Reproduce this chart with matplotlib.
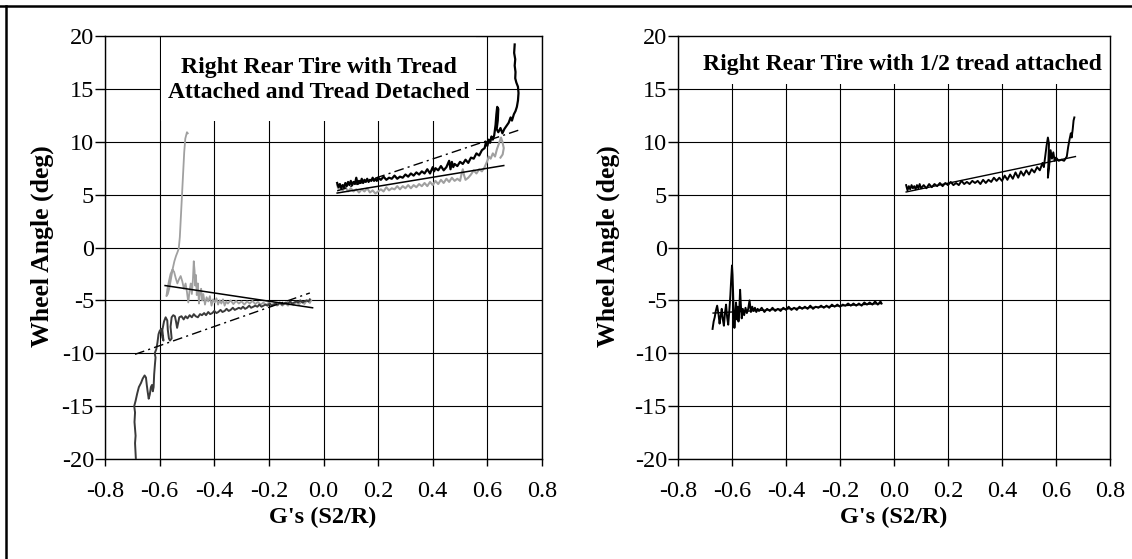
import matplotlib
matplotlib.use("Agg")
import matplotlib.pyplot as plt
from matplotlib.lines import Line2D
from matplotlib.patches import Rectangle

plt.rcParams['font.family'] = ['Liberation Serif', 'DejaVu Serif']

# ---------------- data ----------------
x_ticks = [-0.8, -0.6, -0.4, -0.2, 0.0, 0.2, 0.4, 0.6, 0.8]
x_tick_labels = ["-0.8", "-0.6", "-0.4", "-0.2", "0.0", "0.2", "0.4", "0.6", "0.8"]
y_ticks = [-20, -15, -10, -5, 0, 5, 10, 15, 20]
y_tick_labels = ["-20", "-15", "-10", "-5", "0", "5", "10", "15", "20"]

title_left = "Right Rear Tire with Tread\nAttached and Tread Detached"
title_right = "Right Rear Tire with 1/2 tread attached"
x_label = "G's (S2/R)"
y_label = "Wheel Angle (deg)"

# Left panel: tread attached (dark), negative G side
att_neg_x = [-0.687, -0.690, -0.688, -0.692, -0.690, -0.693, -0.688, -0.682, -0.676, -0.668,
             -0.662, -0.655, -0.650, -0.647, -0.644, -0.640, -0.636, -0.632, -0.628, -0.625,
             -0.622, -0.620, -0.617, -0.615, -0.618, -0.612, -0.608, -0.604, -0.600, -0.594,
             -0.590, -0.586, -0.590, -0.584, -0.578, -0.572, -0.570, -0.566, -0.562, -0.556,
             -0.560, -0.556, -0.550, -0.544, -0.540, -0.536, -0.532, -0.528, -0.520, -0.512,
             -0.505, -0.498, -0.490, -0.482, -0.475, -0.468, -0.460, -0.452, -0.445, -0.437,
             -0.430, -0.422, -0.415, -0.407, -0.400, -0.392, -0.385, -0.377, -0.370, -0.362,
             -0.355, -0.347, -0.340, -0.332, -0.325, -0.317, -0.310, -0.302, -0.295, -0.287,
             -0.280, -0.272, -0.265, -0.257, -0.250, -0.242, -0.235, -0.227, -0.220, -0.212,
             -0.205, -0.197, -0.190, -0.182, -0.175, -0.167, -0.160, -0.152, -0.145, -0.137,
             -0.130, -0.122, -0.115, -0.107, -0.100, -0.092, -0.085, -0.077, -0.070, -0.062,
             -0.055, -0.050]
att_neg_y = [-20.0, -18.5, -17.8, -16.5, -15.6, -15.0, -14.5, -13.8, -13.2, -12.8,
             -12.4, -12.1, -12.3, -13.0, -13.6, -14.3, -13.9, -13.2, -13.0, -13.6,
             -13.2, -12.0, -11.0, -10.4, -10.0, -9.6, -9.0, -8.2, -7.9, -7.7,
             -8.5, -8.8, -7.8, -7.0, -6.6, -6.9, -7.8, -8.6, -8.8, -8.6,
             -7.5, -6.6, -6.4, -6.5, -7.0, -7.6, -7.1, -6.6, -6.5, -6.8,
             -6.5, -6.7, -6.4, -6.6, -6.3, -6.5, -6.6, -6.3, -6.4, -6.2,
             -6.4, -6.1, -6.3, -6.2, -6.0, -6.2, -6.1, -5.9, -6.1, -6.0,
             -5.8, -6.0, -5.9, -5.7, -5.9, -5.8, -5.7, -5.8, -5.6, -5.8,
             -5.7, -5.5, -5.7, -5.6, -5.5, -5.6, -5.4, -5.6, -5.5, -5.4,
             -5.5, -5.3, -5.5, -5.4, -5.3, -5.4, -5.2, -5.4, -5.3, -5.2,
             -5.3, -5.1, -5.3, -5.2, -5.1, -5.2, -5.0, -5.2, -5.1, -5.0,
             -5.1, -4.9]

# Left panel: tread detached (light gray), negative G side
det_neg_x = [-0.497, -0.500, -0.503, -0.506, -0.510, -0.514, -0.518, -0.522, -0.526, -0.530,
             -0.534, -0.540, -0.546, -0.552, -0.558, -0.564, -0.570, -0.575, -0.572, -0.566,
             -0.560, -0.553, -0.547, -0.541, -0.535, -0.529, -0.523, -0.517, -0.511, -0.505,
             -0.500, -0.495, -0.490, -0.486, -0.482, -0.478, -0.475, -0.472, -0.470, -0.467,
             -0.464, -0.460, -0.456, -0.452, -0.448, -0.444, -0.440, -0.434, -0.428, -0.422,
             -0.416, -0.410, -0.404, -0.398, -0.392, -0.386, -0.380, -0.374, -0.368, -0.362,
             -0.356, -0.350, -0.340, -0.330, -0.320, -0.310, -0.300, -0.290, -0.280, -0.270,
             -0.260, -0.250, -0.240, -0.230, -0.220, -0.210, -0.200, -0.190, -0.180, -0.170,
             -0.160, -0.150, -0.140, -0.130, -0.120, -0.110, -0.100, -0.090, -0.080, -0.070,
             -0.060, -0.050, -0.045]
det_neg_y = [10.8, 10.9, 10.6, 10.3, 9.0, 7.0, 5.0, 3.0, 1.0, -0.1,
             -0.4, -0.8, -1.3, -2.0, -2.9, -3.8, -4.4, -4.6, -4.0, -3.2,
             -2.5, -2.1, -2.3, -2.9, -3.4, -3.0, -2.7, -3.2, -3.9, -3.4,
             -4.2, -5.2, -4.0, -3.4, -4.4, -3.0, -1.3, -2.2, -3.6, -2.6,
             -4.5, -3.4, -5.3, -4.3, -3.9, -5.0, -4.4, -5.4, -4.7, -5.1,
             -4.6, -5.5, -4.9, -5.2, -4.8, -5.4, -5.0, -5.3, -4.9, -5.5,
             -5.1, -5.3, -5.0, -5.35, -5.05, -5.3, -5.1, -5.4, -5.1, -5.3,
             -5.05, -5.35, -5.15, -5.4, -5.2, -5.45, -5.2, -5.45, -5.25, -5.5,
             -5.3, -5.5, -5.25, -5.5, -5.2, -5.45, -5.15, -5.4, -5.1, -5.35,
             -5.0, -5.25, -5.0]

# Left panel: tread attached (black), positive G side
att_pos_x = [0.050, 0.055, 0.060, 0.065, 0.070, 0.075, 0.080, 0.085, 0.090, 0.095,
             0.100, 0.105, 0.110, 0.115, 0.120, 0.125, 0.130, 0.135, 0.140, 0.145,
             0.150, 0.155, 0.160, 0.165, 0.170, 0.175, 0.180, 0.185, 0.190, 0.195,
             0.200, 0.210, 0.220, 0.230, 0.240, 0.250, 0.260, 0.270, 0.280, 0.290,
             0.300, 0.310, 0.320, 0.330, 0.340, 0.350, 0.360, 0.370, 0.380, 0.390,
             0.400, 0.405, 0.410, 0.420, 0.430, 0.440, 0.450, 0.460, 0.465, 0.470,
             0.475, 0.480, 0.490, 0.500, 0.510, 0.520, 0.530, 0.540, 0.550, 0.560,
             0.570, 0.580, 0.590, 0.595, 0.600, 0.605, 0.610, 0.615, 0.620, 0.625,
             0.630, 0.633, 0.636, 0.640, 0.638, 0.634, 0.640, 0.648, 0.655, 0.662,
             0.670, 0.678, 0.685, 0.690, 0.697, 0.703, 0.708, 0.712, 0.714, 0.712,
             0.706, 0.702, 0.703, 0.700, 0.702, 0.698, 0.700]
att_pos_y = [6.1, 5.7, 6.0, 5.6, 5.9, 5.7, 6.1, 5.8, 6.2, 5.9,
             6.3, 5.9, 6.2, 6.0, 6.6, 6.0, 6.3, 6.1, 6.5, 6.1,
             6.4, 6.2, 6.5, 6.2, 6.4, 6.3, 6.6, 6.3, 6.5, 6.3,
             6.6, 6.4, 6.7, 6.4, 6.6, 6.5, 6.8, 6.5, 6.7, 6.6,
             6.9, 6.7, 7.0, 6.8, 7.1, 6.9, 7.2, 7.0, 7.4, 7.0,
             7.6, 7.2, 7.5, 7.3, 7.7, 7.3, 7.6, 8.2, 7.4, 8.1,
             7.6, 7.9, 7.7, 8.1, 7.9, 8.3, 8.0, 8.5, 8.4, 8.9,
             8.7, 9.2, 9.4, 10.0, 9.6, 10.2, 9.9, 10.5, 10.2, 10.6,
             11.6, 12.6, 13.3, 13.1, 12.0, 11.2, 10.9, 11.3, 10.8, 11.2,
             11.5, 11.8, 12.3, 12.0, 12.6, 12.9, 13.3, 13.9, 14.6, 15.2,
             15.6, 16.0, 16.6, 17.2, 17.8, 18.4, 19.2]

# Left panel: tread detached (light gray), positive G side
det_pos_x = [0.050, 0.055, 0.060, 0.070, 0.080, 0.090, 0.100, 0.110, 0.120, 0.130,
             0.140, 0.150, 0.160, 0.170, 0.180, 0.190, 0.200, 0.210, 0.220, 0.230,
             0.240, 0.250, 0.260, 0.270, 0.280, 0.290, 0.300, 0.310, 0.320, 0.330,
             0.340, 0.350, 0.360, 0.370, 0.380, 0.390, 0.400, 0.410, 0.420, 0.430,
             0.440, 0.450, 0.460, 0.470, 0.480, 0.490, 0.500, 0.505, 0.510, 0.515,
             0.520, 0.530, 0.540, 0.550, 0.560, 0.570, 0.580, 0.590, 0.600, 0.605,
             0.612, 0.620, 0.628, 0.635, 0.642, 0.650, 0.655, 0.660, 0.656, 0.648]
det_pos_y = [5.9, 5.5, 5.8, 5.4, 5.7, 5.3, 5.6, 5.3, 5.5, 5.2,
             5.5, 5.3, 5.6, 5.2, 5.4, 5.1, 5.3, 5.5, 5.3, 5.7,
             5.4, 5.6, 5.5, 5.8, 5.5, 5.8, 5.6, 5.9, 5.6, 5.9,
             5.7, 6.0, 5.8, 6.1, 5.8, 6.2, 5.9, 6.3, 6.0, 6.4,
             6.1, 6.5, 6.2, 6.6, 6.3, 6.5, 6.3, 6.9, 7.4, 6.8,
             6.4, 6.6, 6.9, 7.3, 7.0, 7.4, 7.2, 7.6, 8.2, 8.6,
             8.4, 8.9, 8.6, 9.3, 9.8, 10.4, 10.0, 9.4, 8.8, 8.5]

# Left panel trend lines (end points)
fit_att_neg_x = [-0.69, -0.05]
fit_att_neg_y = [-10.1, -4.3]
fit_det_neg_x = [-0.58, -0.04]
fit_det_neg_y = [-3.6, -5.7]
fit_att_pos_x = [0.05, 0.715]
fit_att_pos_y = [5.35, 11.1]
fit_det_pos_x = [0.05, 0.66]
fit_det_pos_y = [5.15, 7.75]

# Right panel: 1/2 tread attached, negative G side
half_neg_x = [-0.672, -0.668, -0.664, -0.660, -0.655, -0.650, -0.646, -0.642, -0.638, -0.634,
              -0.630, -0.626, -0.622, -0.618, -0.614, -0.610, -0.606, -0.603, -0.600, -0.598,
              -0.596, -0.594, -0.591, -0.588, -0.585, -0.582, -0.579, -0.576, -0.573, -0.570,
              -0.567, -0.564, -0.560, -0.555, -0.550, -0.545, -0.540, -0.535, -0.530, -0.525,
              -0.520, -0.515, -0.510, -0.505, -0.500, -0.490, -0.480, -0.470, -0.460, -0.450,
              -0.440, -0.430, -0.420, -0.410, -0.400, -0.390, -0.380, -0.370, -0.360, -0.350,
              -0.340, -0.330, -0.320, -0.310, -0.300, -0.290, -0.280, -0.270, -0.260, -0.250,
              -0.240, -0.230, -0.220, -0.210, -0.200, -0.190, -0.180, -0.170, -0.160, -0.150,
              -0.140, -0.130, -0.120, -0.110, -0.100, -0.090, -0.080, -0.070, -0.060, -0.050,
              -0.046]
half_neg_y = [-7.7, -7.0, -6.6, -6.0, -5.5, -6.3, -7.2, -6.5, -5.8, -6.8,
              -7.4, -6.2, -5.4, -6.6, -7.3, -6.0, -4.5, -3.0, -1.7, -2.6,
              -4.2, -6.0, -7.6, -6.4, -5.2, -6.8, -5.6, -7.0, -5.9, -4.0,
              -5.5, -6.7, -5.8, -6.4, -5.7, -6.2, -5.8, -5.0, -6.1, -5.6,
              -6.0, -5.7, -6.1, -5.8, -6.0, -5.7, -6.1, -5.8, -6.0, -5.7,
              -6.0, -5.8, -6.0, -5.7, -5.9, -5.6, -5.9, -5.7, -5.9, -5.6,
              -5.8, -5.6, -5.8, -5.5, -5.8, -5.6, -5.7, -5.5, -5.7, -5.5,
              -5.7, -5.4, -5.6, -5.4, -5.6, -5.4, -5.5, -5.3, -5.5, -5.3,
              -5.5, -5.3, -5.5, -5.2, -5.4, -5.2, -5.4, -5.1, -5.4, -5.1,
              -5.3]

# Right panel: 1/2 tread attached, positive G side
half_pos_x = [0.045, 0.050, 0.055, 0.060, 0.065, 0.070, 0.075, 0.080, 0.085, 0.090,
              0.095, 0.100, 0.110, 0.120, 0.130, 0.140, 0.150, 0.160, 0.170, 0.180,
              0.190, 0.200, 0.210, 0.220, 0.230, 0.240, 0.250, 0.260, 0.270, 0.280,
              0.290, 0.300, 0.310, 0.320, 0.330, 0.340, 0.350, 0.360, 0.370, 0.380,
              0.390, 0.400, 0.410, 0.420, 0.430, 0.440, 0.450, 0.460, 0.470, 0.480,
              0.490, 0.500, 0.510, 0.520, 0.530, 0.540, 0.550, 0.555, 0.560, 0.565,
              0.570, 0.574, 0.572, 0.570, 0.575, 0.580, 0.585, 0.590, 0.595, 0.600,
              0.610, 0.620, 0.630, 0.640, 0.645, 0.650, 0.655, 0.658, 0.662, 0.665,
              0.668]
half_pos_y = [5.9, 5.4, 5.8, 5.5, 5.9, 5.6, 5.8, 5.5, 5.9, 5.6,
              6.0, 5.6, 5.9, 5.6, 6.0, 5.7, 6.0, 5.8, 6.1, 5.8,
              6.1, 5.9, 6.2, 5.9, 6.1, 5.9, 6.3, 6.0, 6.2, 6.0,
              6.3, 6.1, 6.3, 6.0, 6.4, 6.1, 6.4, 6.2, 6.6, 6.3,
              6.6, 6.3, 6.8, 6.4, 6.9, 6.5, 7.1, 6.6, 7.2, 6.8,
              7.3, 6.9, 7.4, 7.1, 7.6, 7.3, 8.0, 7.6, 8.6, 9.6,
              10.4, 9.8, 8.2, 6.6, 7.8, 9.2, 8.4, 9.0, 8.2, 8.5,
              8.2, 8.3, 8.2, 8.6, 9.5, 10.2, 10.8, 10.4, 11.2, 12.0,
              12.3]

fit_half_neg_x = [-0.67, -0.05]
fit_half_neg_y = [-6.2, -5.3]
fit_half_pos_x = [0.045, 0.672]
fit_half_pos_y = [5.25, 8.6]

# ---------------- figure ----------------
W, H = 1132, 559
fig = plt.figure(figsize=(W / 100, H / 100), dpi=100)

FS = 17.5
FS_Y = 18.5
dark = '#3a3a3a'
light = '#a0a0a0'
dashdot = (0, (7, 3, 1.5, 3))


def px_rect(x0, x1, y_top, y_bot):
    return [x0 / W, 1 - y_bot / H, (x1 - x0) / W, (y_bot - y_top) / H]


def style_axes(ax):
    ax.set_xlim(-0.8, 0.8)
    ax.set_ylim(-20, 20)
    ax.set_xticks(x_ticks)
    ax.set_xticklabels(x_tick_labels)
    ax.set_yticks(y_ticks)
    ax.set_yticklabels(y_tick_labels)
    ax.set_axisbelow(True)
    ax.grid(True, color='black', linewidth=0.8)
    for s in ax.spines.values():
        s.set_color('black')
        s.set_linewidth(1.0)
    ax.tick_params(axis='x', direction='out', length=5, width=1, pad=11, labelsize=FS, colors='black')
    ax.tick_params(axis='y', direction='out', length=7, width=1, pad=1, labelsize=FS, colors='black')


# Left panel
axL = fig.add_axes(px_rect(105, 542, 36, 459))
style_axes(axL)
axL.add_patch(Rectangle((0.128, 0.80), 0.722, 0.21, transform=axL.transAxes,
                        facecolor='white', edgecolor='none', zorder=1, clip_on=False))
axL.text(0.49, 0.895, title_left, transform=axL.transAxes, ha='center', va='center',
         fontsize=17, fontweight='bold', linespacing=1.25, zorder=6)
axL.plot(det_neg_x, det_neg_y, color=light, lw=1.3, zorder=3)
axL.plot(att_neg_x, att_neg_y, color=dark, lw=1.4, zorder=3)
axL.plot(det_pos_x, det_pos_y, color=light, lw=1.5, zorder=3)
axL.plot(att_pos_x, att_pos_y, color='black', lw=1.6, zorder=3)
axL.plot(fit_det_neg_x, fit_det_neg_y, color='black', lw=1.1, zorder=4)
axL.plot(fit_att_neg_x, fit_att_neg_y, color='black', lw=1.0, linestyle=dashdot, zorder=4)
axL.plot(fit_det_pos_x, fit_det_pos_y, color='black', lw=1.1, zorder=4)
axL.plot(fit_att_pos_x, fit_att_pos_y, color='black', lw=1.0, linestyle=dashdot, zorder=4)

# Right panel
axR = fig.add_axes(px_rect(678, 1110, 36, 459))
style_axes(axR)
axR.add_patch(Rectangle((0.028, 0.887), 0.972, 0.113, transform=axR.transAxes,
                        facecolor='white', edgecolor='none', zorder=1))
axR.text(0.519, 0.932, title_right, transform=axR.transAxes, ha='center', va='center',
         fontsize=17, fontweight='bold', zorder=6)
axR.plot(half_neg_x, half_neg_y, color='black', lw=1.4, zorder=3)
axR.plot(half_pos_x, half_pos_y, color='black', lw=1.4, zorder=3)
axR.plot(fit_half_neg_x, fit_half_neg_y, color='black', lw=1.0, zorder=4)
axR.plot(fit_half_pos_x, fit_half_pos_y, color='black', lw=1.0, zorder=4)

# Axis labels
for cx, cy in [(42, 246), (608, 246)]:
    fig.text(cx / W, 1 - cy / H, y_label, rotation=90, ha='center', va='center',
             fontsize=FS_Y, fontweight='bold')
for cx, cy in [(323, 517), (894, 517)]:
    fig.text(cx / W, 1 - cy / H, x_label, ha='center', va='center',
             fontsize=FS, fontweight='bold')

# Frame lines (top and left border)
fig.add_artist(Line2D([0, 1], [1 - 6 / H, 1 - 6 / H], transform=fig.transFigure,
                      color='black', lw=1.8))
fig.add_artist(Line2D([6 / W, 6 / W], [0, 1 - 6 / H], transform=fig.transFigure,
                      color='black', lw=1.8))

fig.savefig('out.png', dpi=100)
